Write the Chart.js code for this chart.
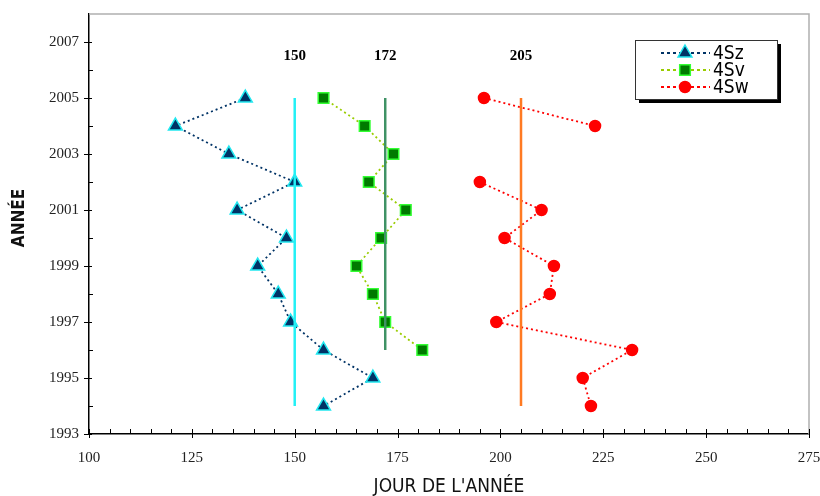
<!DOCTYPE html>
<html>
<head>
<meta charset="utf-8">
<script src="https://cdn.jsdelivr.net/npm/chart.js@4"></script>
<style>
  html, body { margin: 0; padding: 0; background: #fff; }
  #wrap { width: 820px; height: 496px; }
</style>
</head>
<body>
<div id="wrap"><canvas id="myChart" width="820" height="496"></canvas></div>
<script>
// data
const years = [2005, 2004, 2003, 2002, 2001, 2000, 1999, 1998, 1997, 1996, 1995, 1994];
const sz = [138, 121, 134, 150, 136, 148, 141, 146, 149, 157, 169, 157];
const sv = [157, 167, 174, 168, 177, 171, 165, 169, 172, 181, null, null];
const sw = [196, 223, null, 195, 210, 201, 213, 212, 199, 232, 220, 222];

// mean lines: value, first year, last year
const meanDays = [150, 172, 205];
const meanFrom = [1994, 1996, 1994];
const meanTo = [2005, 2005, 2005];
const meanColors = ['#22f0f5', '#3f9265', '#ff7a22'];
const meanLabelYear = 2006.5;

const xTicks = [100, 125, 150, 175, 200, 225, 250, 275];
const xMinor = [105, 110, 115, 120, 130, 135, 140, 145, 155, 160, 165, 170, 180, 185, 190, 195, 205, 210, 215, 220, 230, 235, 240, 245, 255, 260, 265, 270];
const yTicks = [1993, 1995, 1997, 1999, 2001, 2003, 2005, 2007];
const yMinor = [1994, 1996, 1998, 2000, 2002, 2004, 2006];

const narrow = "'Liberation Sans Narrow', 'DejaVu Sans Condensed', sans-serif";

const toPoints = (vals) => years.map((y, i) => ({ x: vals[i], y: y }));

const series = [
  { label: '4Sz', data: toPoints(sz), line: '#003366', style: 'triangle', fill: '#003366', edge: '#22e8f0', r: 8 },
  { label: '4Sv', data: toPoints(sv), line: '#99cc00', style: 'rect', fill: '#007a00', edge: '#33ff33', r: 7.5 },
  { label: '4Sw', data: toPoints(sw), line: '#ff0000', style: 'circle', fill: '#ff0000', edge: '#ff0000', r: 5.5 }
];

const datasets = series.map(s => ({
  label: s.label,
  data: s.data,
  showLine: true,
  spanGaps: false,
  borderColor: s.line,
  borderWidth: 1.8,
  borderDash: [2, 3],
  pointStyle: s.style,
  pointRadius: s.r,
  pointBackgroundColor: s.fill,
  pointBorderColor: s.edge,
  pointBorderWidth: 1.5
}));

meanDays.forEach((d, i) => {
  datasets.unshift({
    label: 'mean' + d,
    data: [{ x: d, y: meanFrom[i] }, { x: d, y: meanTo[i] }],
    showLine: true,
    borderColor: meanColors[i],
    borderWidth: 2.5,
    pointRadius: 0
  });
});

function drawMarker(ctx, s, x, y) {
  ctx.fillStyle = s.fill; ctx.strokeStyle = s.edge; ctx.lineWidth = 1.5;
  ctx.beginPath();
  if (s.style === 'circle') { ctx.arc(x, y, s.r, 0, Math.PI * 2); }
  else if (s.style === 'rect') { const h = s.r * Math.SQRT1_2; ctx.rect(x - h, y - h, 2 * h, 2 * h); }
  else { const r = s.r; ctx.moveTo(x, y - r); ctx.lineTo(x + r * 0.866, y + r / 2); ctx.lineTo(x - r * 0.866, y + r / 2); ctx.closePath(); }
  ctx.fill(); ctx.stroke();
}

// frame, ticks, titles, labels and legend
const decor = {
  id: 'decor',
  afterDraw(chart) {
    const ctx = chart.ctx;
    const a = chart.chartArea;
    const xs = chart.scales.x, ys = chart.scales.y;
    ctx.save();

    // gray top/right frame
    ctx.strokeStyle = '#b0b0b0';
    ctx.lineWidth = 1.5;
    ctx.beginPath();
    ctx.moveTo(a.left, a.top); ctx.lineTo(a.right, a.top); ctx.lineTo(a.right, a.bottom);
    ctx.stroke();

    // tick marks
    ctx.strokeStyle = '#000';
    ctx.lineWidth = 1;
    ctx.beginPath();
    xTicks.forEach(v => { const p = Math.round(xs.getPixelForValue(v)) + 0.5; ctx.moveTo(p, a.bottom - 5); ctx.lineTo(p, a.bottom + 4); });
    xMinor.forEach(v => { const p = Math.round(xs.getPixelForValue(v)) + 0.5; ctx.moveTo(p, a.bottom - 5); ctx.lineTo(p, a.bottom); });
    yTicks.forEach(v => { const p = Math.round(ys.getPixelForValue(v)) + 0.5; ctx.moveTo(a.left - 5, p); ctx.lineTo(a.left + 3, p); });
    yMinor.forEach(v => { const p = Math.round(ys.getPixelForValue(v)) + 0.5; ctx.moveTo(a.left, p); ctx.lineTo(a.left + 4, p); });
    ctx.stroke();

    // mean labels
    ctx.fillStyle = '#000';
    ctx.font = "bold 15px 'Liberation Serif', serif";
    ctx.textAlign = 'center';
    ctx.textBaseline = 'middle';
    meanDays.forEach(d => ctx.fillText(String(d), xs.getPixelForValue(d), ys.getPixelForValue(meanLabelYear)));

    // axis titles
    ctx.fillStyle = '#111';
    ctx.font = '19px ' + narrow;
    ctx.fillText("JOUR DE L'ANNÉE", (a.left + a.right) / 2, 487);
    ctx.save();
    ctx.translate(20, 218);
    ctx.rotate(-Math.PI / 2);
    ctx.font = 'bold 17px ' + narrow;
    ctx.fillText('ANNÉE', 0, 0);
    ctx.restore();

    // legend box with shadow
    const bx = 635, by = 40, bw = 142, bh = 59;
    ctx.fillStyle = '#000';
    ctx.fillRect(bx + 4, by + 4, bw, bh);
    ctx.fillStyle = '#fff';
    ctx.fillRect(bx, by, bw, bh);
    ctx.strokeStyle = '#333';
    ctx.lineWidth = 1;
    ctx.strokeRect(bx + 0.5, by + 0.5, bw, bh);
    const rowY = [53, 70, 87];
    series.forEach((s, i) => {
      const y = rowY[i];
      ctx.strokeStyle = s.line;
      ctx.lineWidth = 2;
      ctx.setLineDash([3, 3]);
      ctx.beginPath(); ctx.moveTo(661, y); ctx.lineTo(710, y); ctx.stroke();
      ctx.setLineDash([]);
      drawMarker(ctx, s, 685, y);
      ctx.fillStyle = '#000';
      ctx.font = '19px ' + narrow;
      ctx.textAlign = 'left';
      ctx.fillText(s.label, 713, y + 1);
    });
    ctx.restore();
  }
};

new Chart(document.getElementById('myChart').getContext('2d'), {
  type: 'scatter',
  data: { datasets: datasets },
  options: {
    responsive: false,
    animation: false,
    layout: { padding: { top: 14, right: 11, left: 0, bottom: 0 } },
    plugins: { legend: { display: false }, tooltip: { enabled: false } },
    scales: {
      x: {
        type: 'linear', min: 100, max: 275,
        afterBuildTicks: s => { s.ticks = xTicks.map(v => ({ value: v })); },
        afterFit: s => { s.height = 62; s.paddingLeft = 0; s.paddingRight = 0; },
        grid: { display: false, drawTicks: false },
        border: { display: true, color: '#000', width: 1.5 },
        ticks: { color: '#222', padding: 15, maxRotation: 0, autoSkip: false, font: { family: "'Liberation Serif', serif", size: 15 } }
      },
      y: {
        type: 'linear', min: 1993, max: 2008,
        afterBuildTicks: s => { s.ticks = yTicks.map(v => ({ value: v })); },
        afterFit: s => { s.width = 89; s.paddingTop = 0; s.paddingBottom = 0; },
        grid: { display: false, drawTicks: false },
        border: { display: true, color: '#000', width: 1.5 },
        ticks: { color: '#222', padding: 10, autoSkip: false, callback: v => String(v), font: { family: "'Liberation Serif', serif", size: 15 } }
      }
    }
  },
  plugins: [decor]
});
</script>
</body>
</html>
